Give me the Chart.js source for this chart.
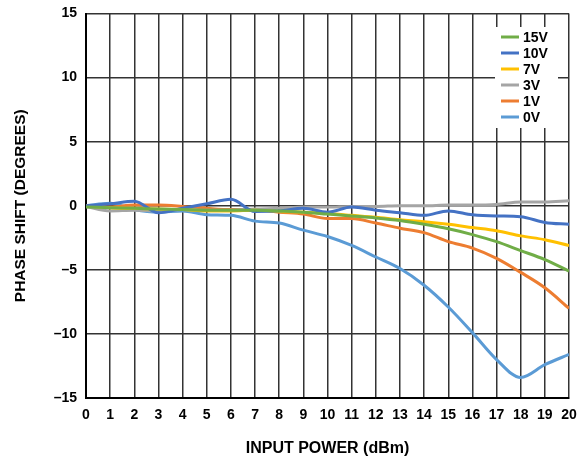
<!DOCTYPE html>
<html>
<head>
<meta charset="utf-8">
<script src="https://cdn.jsdelivr.net/npm/chart.js@4.4.1/dist/chart.umd.min.js"></script>
<style>
  html, body { margin: 0; padding: 0; background: #fff; }
  #wrap { width: 583px; height: 460px; }
</style>
</head>
<body>
<div id="wrap"><canvas id="phaseChart" width="583" height="460"></canvas></div>
<script>
// input power (dBm)
const inputPower = [0, 1, 2, 3, 4, 5, 6, 7, 8, 9, 10, 11, 12, 13, 14, 15, 16, 17, 18, 19, 20];

// phase shift (degrees) per control voltage
const v15 = [-0.1, -0.15, -0.2, -0.25, -0.3, -0.35, -0.35, -0.35, -0.4, -0.5, -0.65, -0.8, -0.95, -1.15, -1.45, -1.8, -2.25, -2.8, -3.5, -4.2, -5.1];
const v10 = [0, 0.15, 0.35, -0.55, -0.2, 0.15, 0.5, -0.45, -0.4, -0.2, -0.5, -0.1, -0.35, -0.55, -0.75, -0.4, -0.7, -0.8, -0.85, -1.3, -1.45];
const v7 = [0, -0.15, -0.2, -0.25, -0.3, -0.4, -0.4, -0.35, -0.45, -0.5, -0.6, -0.75, -0.9, -1.1, -1.25, -1.45, -1.7, -1.95, -2.35, -2.65, -3.1];
const v3 = [-0.05, -0.4, -0.35, -0.4, -0.3, -0.35, -0.35, -0.25, -0.2, -0.1, -0.1, -0.05, -0.05, 0, 0, 0.05, 0.05, 0.1, 0.3, 0.3, 0.4];
const v1 = [0, -0.1, 0.05, 0.05, -0.05, -0.2, -0.3, -0.3, -0.5, -0.65, -1.0, -1.0, -1.35, -1.75, -2.1, -2.8, -3.3, -4.1, -5.2, -6.4, -8.0];
const v0 = [0, 0.2, -0.3, -0.5, -0.4, -0.7, -0.75, -1.2, -1.35, -1.9, -2.4, -3.1, -4.0, -4.9, -6.2, -7.9, -9.9, -12.0, -13.4, -12.4, -11.6];

const seriesLabels = ["15V", "10V", "7V", "3V", "1V", "0V"];
const seriesData = [v15, v10, v7, v3, v1, v0];
const seriesColors = ["#70ad47", "#4472c4", "#ffc000", "#a5a5a5", "#ed7d31", "#5b9bd5"];

const yTicks = [-15, -10, -5, 0, 5, 10, 15];

const FONT = "'Liberation Sans', Arial, sans-serif";

function toPoints(values) {
    return values.map(function (v, i) { return { x: inputPower[i], y: v }; });
}

const datasets = seriesData.map(function (values, i) {
    return {
        label: seriesLabels[i],
        data: toPoints(values),
        borderColor: seriesColors[i],
        backgroundColor: seriesColors[i],
        borderWidth: 3,
        pointRadius: 0,
        tension: 0.4,
        cubicInterpolationMode: "monotone",
        fill: false
    };
});

// legend box drawn inside the plot, on a white patch
const insideLegend = {
    id: "insideLegend",
    afterDatasetsDraw: function (chart) {
        const ctx = chart.ctx;
        ctx.save();
        ctx.fillStyle = "#fff";
        ctx.fillRect(495, 27, 63, 101);
        ctx.font = "bold 14px " + FONT;
        ctx.textBaseline = "middle";
        ctx.textAlign = "left";
        chart.data.datasets.forEach(function (ds, i) {
            const y = 37 + i * 16;
            ctx.strokeStyle = ds.borderColor;
            ctx.lineWidth = 3;
            ctx.beginPath();
            ctx.moveTo(501, y);
            ctx.lineTo(519, y);
            ctx.stroke();
            ctx.fillStyle = "#000";
            ctx.fillText(ds.label, 523, y + 1);
        });
        ctx.restore();
    }
};

new Chart(document.getElementById("phaseChart"), {
    type: "line",
    data: { datasets: datasets },
    plugins: [insideLegend],
    options: {
        responsive: false,
        animation: false,
        layout: { padding: { top: 13.5, right: 14, left: 0, bottom: 0 } },
        plugins: {
            legend: { display: false },
            tooltip: { enabled: false }
        },
        scales: {
            x: {
                type: "linear",
                min: 0,
                max: 20,
                afterFit: function (axis) {
                    axis.height = 62;
                    axis.paddingLeft = 0;
                    axis.paddingRight = 0;
                },
                ticks: {
                    stepSize: 1,
                    color: "#000",
                    padding: 9,
                    maxRotation: 0,
                    font: { family: FONT, size: 14, weight: "bold" }
                },
                grid: { color: "#333", lineWidth: 1.5, drawTicks: false },
                border: { color: "#000", width: 2 },
                title: {
                    display: true,
                    text: "INPUT POWER (dBm)",
                    color: "#000",
                    padding: { top: 0, bottom: 1.5 },
                    font: { family: FONT, size: 16, weight: "bold" }
                }
            },
            y: {
                min: -15,
                max: 15,
                afterBuildTicks: function (axis) {
                    axis.ticks = yTicks.map(function (v) { return { value: v }; });
                },
                afterFit: function (axis) {
                    axis.width = 86;
                    axis.paddingTop = 0;
                    axis.paddingBottom = 0;
                },
                ticks: {
                    color: "#000",
                    padding: 9,
                    font: { family: FONT, size: 14, weight: "bold" },
                    callback: function (v) { return String(v).replace("-", "\u2013"); }
                },
                grid: { color: "#333", lineWidth: 1.5, drawTicks: false },
                border: { color: "#000", width: 2 },
                title: {
                    display: true,
                    text: "PHASE SHIFT (DEGREES)",
                    color: "#000",
                    padding: { top: 11, bottom: 0 },
                    font: { family: FONT, size: 15.5, weight: "bold" }
                }
            }
        }
    }
});
</script>
</body>
</html>
